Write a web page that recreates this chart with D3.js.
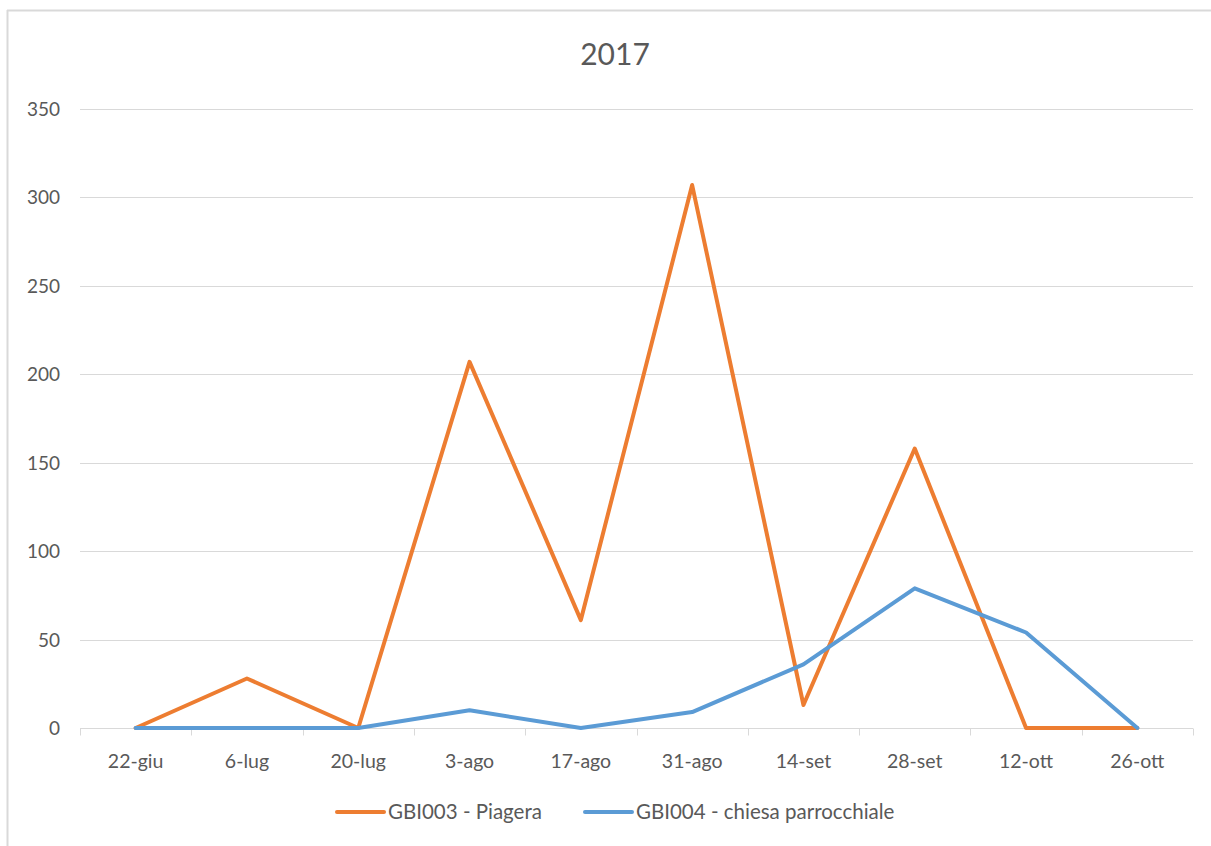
<!DOCTYPE html>
<html>
<head>
<meta charset="utf-8">
<script src="https://cdn.jsdelivr.net/npm/d3@7"></script>
<style>
    body { margin: 0; background: #fff; }
    text { font-family: Lato, "Open Sans", sans-serif; fill: #595959; }
</style>
</head>
<body>
<div id="chart"></div>
<script>
const title = '2017';
const dates = ['22-giu', '6-lug', '20-lug', '3-ago', '17-ago', '31-ago', '14-set', '28-set', '12-ott', '26-ott'];
const piagera = [0, 28, 0, 207, 61, 307, 13, 158, 0, 0];
const chiesa = [0, 0, 0, 10, 0, 9, 36, 79, 54, 0];
const seriesNames = ['GBI003 - Piagera', 'GBI004 - chiesa parrocchiale'];
const seriesColors = ['#ED7D31', '#5B9BD5'];
const yTicks = [0, 50, 100, 150, 200, 250, 300, 350];

const width = 1211;
const height = 846;
const plotLeft = 80, plotRight = 1193, plotTop = 109, plotBottom = 728;

const svg = d3.select('#chart')
    .append('svg')
    .attr('width', width)
    .attr('height', height);

// chart frame (cropped screenshot: only top and left edges show)
svg.append('line')
    .attr('x1', 7).attr('x2', width).attr('y1', 10.5).attr('y2', 10.5)
    .attr('stroke', '#d9d9d9').attr('stroke-width', 2);
svg.append('line')
    .attr('x1', 7.5).attr('x2', 7.5).attr('y1', 10).attr('y2', height)
    .attr('stroke', '#d9d9d9').attr('stroke-width', 2);

const x = d3.scaleBand().domain(dates).range([plotLeft, plotRight]);
const y = d3.scaleLinear().domain([0, 350]).range([plotBottom, plotTop]);

svg.append('text')
    .attr('x', 615).attr('y', 65)
    .attr('text-anchor', 'middle')
    .style('font-size', '30px')
    .text(title);

// gridlines
svg.append('g')
    .selectAll('line')
    .data(yTicks.slice(1))
    .enter().append('line')
    .attr('x1', plotLeft).attr('x2', plotRight)
    .attr('y1', d => Math.round(y(d)) + 0.5)
    .attr('y2', d => Math.round(y(d)) + 0.5)
    .attr('stroke', '#d9d9d9');

// y labels
svg.append('g')
    .selectAll('text')
    .data(yTicks)
    .enter().append('text')
    .attr('x', 60)
    .attr('y', d => y(d) + 7)
    .attr('text-anchor', 'end')
    .style('font-size', '19px')
    .text(d => d);

// x axis
const xAxis = svg.append('g')
    .attr('transform', 'translate(0,' + (plotBottom + 0.5) + ')');
xAxis.append('line')
    .attr('x1', plotLeft).attr('x2', plotRight)
    .attr('stroke', '#d9d9d9');
xAxis.selectAll('.tick')
    .data(dates.concat(['end']))
    .enter().append('line')
    .attr('x1', (d, i) => Math.round(plotLeft + i * x.step()) + 0.5)
    .attr('x2', (d, i) => Math.round(plotLeft + i * x.step()) + 0.5)
    .attr('y1', 0).attr('y2', 7)
    .attr('stroke', '#d9d9d9');
xAxis.selectAll('text')
    .data(dates)
    .enter().append('text')
    .attr('x', d => x(d) + x.bandwidth() / 2)
    .attr('y', 39)
    .attr('text-anchor', 'middle')
    .style('font-size', '19.5px')
    .text(d => d);

const line = d3.line()
    .x((d, i) => x(dates[i]) + x.bandwidth() / 2)
    .y(d => y(d));

[piagera, chiesa].forEach(function (values, k) {
    svg.append('path')
        .datum(values)
        .attr('d', line)
        .attr('fill', 'none')
        .attr('stroke', seriesColors[k])
        .attr('stroke-width', 4)
        .attr('stroke-linejoin', 'round')
        .attr('stroke-linecap', 'round');
});

// legend
const legendX = [337, 585];
const legend = svg.append('g')
    .selectAll('g')
    .data(seriesNames)
    .enter().append('g')
    .attr('transform', (d, i) => 'translate(' + legendX[i] + ',812)');
legend.append('line')
    .attr('x1', 0).attr('x2', 47)
    .attr('stroke', (d, i) => seriesColors[i])
    .attr('stroke-width', 4)
    .attr('stroke-linecap', 'round');
legend.append('text')
    .attr('x', 51).attr('y', 7)
    .style('font-size', '20.5px')
    .text(d => d);
</script>
</body>
</html>
